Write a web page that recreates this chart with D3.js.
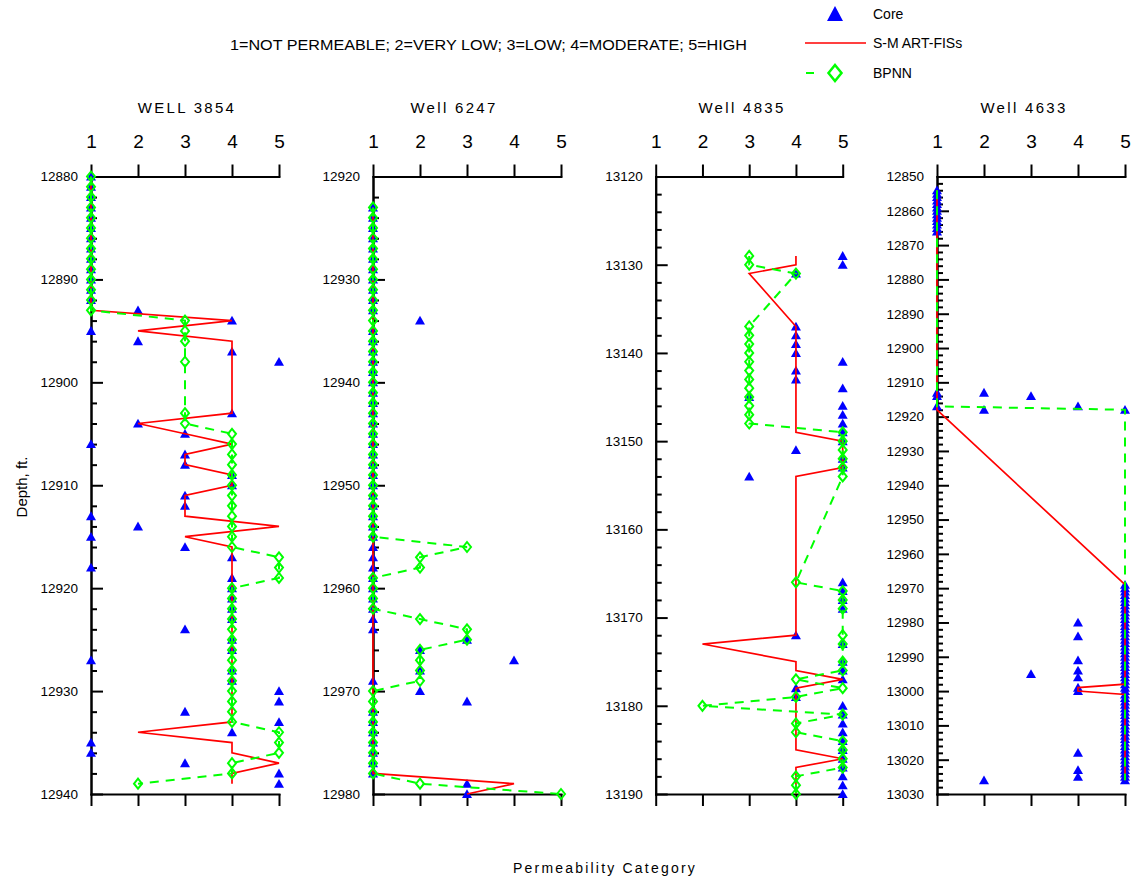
<!DOCTYPE html>
<html><head><meta charset="utf-8">
<script src="https://cdn.jsdelivr.net/npm/d3@7"></script>
<style>
body{margin:0;background:#fff}
svg{display:block}
text{font-family:"Liberation Sans",Arial,Helvetica,sans-serif;fill:#000}
</style>
</head><body>
<svg id="c" width="1136" height="882"></svg>
<script>
// ---------- DATA ----------
const permTicks = [1, 2, 3, 4, 5];
const subtitle = "1=NOT PERMEABLE; 2=VERY LOW; 3=LOW; 4=MODERATE; 5=HIGH";
const legendLabels = ["Core", "S-M ART-FISs", "BPNN"];
const wellTitles = ["WELL 3854", "Well 6247", "Well 4835", "Well 4633"];
const depthDomains = [[12880, 12940], [12920, 12980], [13120, 13190], [12850, 13030]];

// Well 3854
const w1Depth = [12880,12881,12882,12883,12884,12885,12886,12887,12888,12889,12890,12891,12892,12893,12894,12895,12896,12897,12898,12899,12900,12901,12902,12903,12904,12905,12906,12907,12908,12909,12910,12911,12912,12913,12914,12915,12916,12917,12918,12919,12920,12921,12922,12923,12924,12925,12926,12927,12928,12929,12930,12931,12932,12933,12934,12935,12936,12937,12938,12939];
const w1Core = [1,1,1,1,1,1,1,1,1,1,1,1,1,2,4,1,2,4,5,null,null,null,null,4,2,3,1,3,3,4,4,3,3,1,2,1,3,4,1,4,4,4,4,4,3,4,4,1,4,4,5,5,3,5,4,1,1,3,5,5];
const w1Fis  = [1,1,1,1,1,1,1,1,1,1,1,1,1,1,4,2,4,4,4,4,4,4,4,4,2,3,4,3,3,4,4,3,3,3,5,3,4,4,4,4,4,4,4,4,4,4,4,4,4,4,4,4,4,4,2,4,4,5,4,4];
const w1Bpnn = [1,1,1,1,1,1,1,1,1,1,1,1,1,1,3,3,3,null,3,null,null,null,null,3,3,4,4,4,4,4,4,4,4,4,4,4,4,5,5,5,4,4,4,4,4,4,4,4,4,4,4,4,4,4,5,5,5,4,4,2];

// Well 6247
const w2Depth = [12923,12924,12925,12926,12927,12928,12929,12930,12931,12932,12933,12934,12935,12936,12937,12938,12939,12940,12941,12942,12943,12944,12945,12946,12947,12948,12949,12950,12951,12952,12953,12954,12955,12956,12957,12958,12959,12960,12961,12962,12963,12964,12965,12966,12967,12968,12969,12970,12971,12972,12973,12974,12975,12976,12977,12978,12979,12980];
const w2Core = [1,1,1,1,1,1,1,1,1,1,1,2,1,1,1,1,1,1,1,1,1,1,1,1,1,1,1,1,1,1,1,1,1,1,1,1,1,1,1,1,1,1,3,2,4,2,1,2,3,1,1,1,1,1,1,1,3,3];
const w2Fis  = [1,1,1,1,1,1,1,1,1,1,1,1,1,1,1,1,1,1,1,1,1,1,1,1,1,1,1,1,1,1,1,1,1,1,1,1,1,1,1,1,1,1,1,1,1,1,1,1,1,1,1,1,1,1,1,1,4,3];
const w2Bpnn = [1,1,1,1,1,1,1,1,1,1,1,1,1,1,1,1,1,1,1,1,1,1,1,1,1,1,1,1,1,1,1,1,1,3,2,2,1,1,1,1,2,3,3,2,2,2,2,1,1,1,1,1,1,1,1,1,2,5];

// Well 4835
const w3Depth = [13129,13130,13131,13132,13133,13134,13135,13136,13137,13138,13139,13140,13141,13142,13143,13144,13145,13146,13147,13148,13149,13150,13151,13152,13153,13154,13155,13156,13157,13158,13159,13160,13161,13162,13163,13164,13165,13166,13167,13168,13169,13170,13171,13172,13173,13174,13175,13176,13177,13178,13179,13180,13181,13182,13183,13184,13185,13186,13187,13188,13189,13190];
const w3Core = [5,5,4,null,null,null,null,null,4,4,4,4,5,4,4,5,3,5,5,5,5,5,4,5,5,3,null,null,null,null,null,null,null,null,null,null,null,5,5,5,5,null,null,4,5,null,5,5,5,4,4,5,5,5,5,5,5,5,5,5,5,5];
const w3Fis  = [4,4,3,null,null,null,null,null,4,4,4,4,4,4,4,4,4,4,4,4,4,5,5,5,5,4,4,4,4,4,4,4,4,4,4,4,4,4,4,4,4,4,4,4,2,null,4,4,5,4,4,4,4,4,4,4,4,5,4,4,4,4];
const w3Bpnn = [3,3,4,null,null,null,null,null,3,3,3,3,3,3,3,3,3,3,3,3,5,5,5,5,5,5,null,null,null,null,null,null,null,null,null,null,null,4,5,5,5,null,null,5,5,null,5,5,4,5,4,2,5,4,4,5,5,5,5,4,4,4];

// Well 4633 (core as depth/value pairs; lines as listed points)
const w4CoreDepth = [12854,12855,12856,12857,12858,12859,12860,12861,12862,12863,12864,12865,12866,
  12913,12914,12913,12914,12917,12918,12917,12918,
  12969,12970,12971,12972,12973,12974,12975,12976,12977,12978,12979,12980,12981,12982,12983,12984,12985,12986,12987,12988,12989,12990,12991,12992,12993,12994,12995,12996,12997,12998,12999,13000,13001,13002,13003,13004,13005,13006,13007,13008,13009,13010,13011,13012,13013,13014,13015,13016,13017,13018,13019,13020,13021,13022,13023,13024,13025,13026,
  12980,12984,12991,12994,12996,12999,13000,13018,13023,13025,12995,13026];
const w4CoreVal = [1,1,1,1,1,1,1,1,1,1,1,1,1,
  1,1,2,3,1,2,4,5,
  5,5,5,5,5,5,5,5,5,5,5,5,5,5,5,5,5,5,5,5,5,5,5,5,5,5,5,5,5,5,5,5,5,5,5,5,5,5,5,5,5,5,5,5,5,5,5,5,5,5,5,5,5,5,5,5,5,5,
  4,4,4,4,4,4,4,4,4,4,3,2];
const w4FisDepth = [12854,12866,12880,12900,12918,12969,12998,12999,13000,13001,13026];
const w4FisVal   = [1,1,1,1,1,5,5,4,4,5,5];
const w4BpnnDepth = [12854,12866,12880,12900,12917,12918,12969,12998,13026];
const w4BpnnVal   = [1,1,1,1,1,5,5,5,5];

// ---------- LAYOUT ----------
const svg = d3.select("#c");
const yTop = 176.5, yBot = 794;
const layout = [
  {x0: 91,    x1: 279,    titleX: 187},
  {x0: 373,   x1: 561,    titleX: 454},
  {x0: 655.7, x1: 842.7,  titleX: 742},
  {x0: 937,   x1: 1125,   titleX: 1024}
];
const BLUE = "#0000ff", RED = "#ff0000", GREEN = "#00ff00";
const triPath = "M0,-4.8L5,4L-5,4Z";
const diaPath = "M0,-5L4,0L0,5L-4,0Z";

function pairs(depth, vals) {
  const out = [];
  depth.forEach((d, i) => { if (vals[i] !== null && vals[i] !== undefined) out.push([d, vals[i]]); });
  return out;
}

const wells = [
  {core: pairs(w1Depth, w1Core), fis: pairs(w1Depth, w1Fis), bpnn: pairs(w1Depth, w1Bpnn), diamonds: true},
  {core: pairs(w2Depth, w2Core), fis: pairs(w2Depth, w2Fis), bpnn: pairs(w2Depth, w2Bpnn), diamonds: true},
  {core: pairs(w3Depth, w3Core), fis: pairs(w3Depth, w3Fis), bpnn: pairs(w3Depth, w3Bpnn), diamonds: true},
  {core: pairs(w4CoreDepth, w4CoreVal), fis: pairs(w4FisDepth, w4FisVal), bpnn: pairs(w4BpnnDepth, w4BpnnVal), diamonds: false}
];

wells.forEach((w, i) => {
  const L = layout[i];
  const dom = depthDomains[i];
  const x = d3.scaleLinear().domain([1, 5]).range([L.x0, L.x1]);
  const y = d3.scaleLinear().domain(dom).range([yTop, yBot]);
  const g = svg.append("g");

  // title
  g.append("text").attr("x", L.titleX).attr("y", 113).attr("text-anchor", "middle")
    .style("font-size", "15px").style("letter-spacing", "2.3px").text(wellTitles[i]);

  // minor ticks
  const minorVals = d3.range(dom[0], dom[1] + 0.001, 2).filter(v => (v - dom[0]) % 10 !== 0);
  const minor = g.append("g").attr("transform", `translate(${L.x0},0)`)
    .call(d3.axisLeft(y).tickValues(minorVals).tickSize(-6).tickSizeOuter(0).tickFormat(""));
  // major ticks + labels
  const majorVals = d3.range(dom[0], dom[1] + 0.001, 10);
  const major = g.append("g").attr("transform", `translate(${L.x0},0)`)
    .call(d3.axisLeft(y).tickValues(majorVals).tickSize(-12).tickSizeOuter(0).tickPadding(13).tickFormat(d3.format("d")));
  major.selectAll("text").style("font-size", "13.5px").attr("font-family", null);
  // top axis
  const top = g.append("g").attr("transform", `translate(0,${yTop})`)
    .call(d3.axisTop(x).tickValues(permTicks).tickSize(12).tickSizeOuter(0).tickPadding(17).tickFormat(d3.format("d")));
  top.selectAll("text").style("font-size", "19px");
  // bottom axis
  g.append("g").attr("transform", `translate(0,${yBot})`)
    .call(d3.axisBottom(x).tickValues(permTicks).tickSize(12).tickSizeOuter(0).tickFormat(""));

  g.selectAll(".domain, .tick line").attr("stroke", "#000").attr("stroke-width", 2).attr("stroke-linecap", "square");
  g.selectAll(".tick line").attr("stroke-linecap", "butt");
  g.selectAll(".tick text").attr("fill", "#000").attr("font-family", null);

  // core triangles
  g.append("g").selectAll("path").data(w.core).join("path")
    .attr("d", triPath).attr("fill", BLUE)
    .attr("transform", d => `translate(${x(d[1])},${y(d[0])})`);

  const line = d3.line().x(d => x(d[1])).y(d => y(d[0]));
  g.append("path").datum(w.fis).attr("d", line).attr("fill", "none")
    .attr("stroke", RED).attr("stroke-width", 1.7);
  g.append("path").datum(w.bpnn).attr("d", line).attr("fill", "none")
    .attr("stroke", GREEN).attr("stroke-width", 2).attr("stroke-dasharray", "9,7");
  if (w.diamonds) {
    g.append("g").selectAll("path").data(w.bpnn).join("path")
      .attr("d", diaPath).attr("fill", "none").attr("stroke", GREEN).attr("stroke-width", 2)
      .attr("transform", d => `translate(${x(d[1])},${y(d[0])})`);
  }
});

// axis titles
svg.append("text").attr("x", 605).attr("y", 873).attr("text-anchor", "middle")
  .style("font-size", "14px").style("letter-spacing", "2.2px").text("Permeability Category");
svg.append("text").attr("transform", "translate(27,487) rotate(-90)").attr("text-anchor", "middle")
  .style("font-size", "15px").text("Depth, ft.");

// subtitle
svg.append("text").attr("x", 230).attr("y", 50).attr("textLength", 517).attr("lengthAdjust", "spacingAndGlyphs")
  .style("font-size", "14px").text(subtitle);

// legend
const lg = svg.append("g");
lg.append("path").attr("d", "M0,-8L8,7L-8,7Z").attr("fill", BLUE).attr("transform", "translate(835,14)");
lg.append("line").attr("x1", 805).attr("x2", 866).attr("y1", 43).attr("y2", 43).attr("stroke", RED).attr("stroke-width", 1.7);
lg.append("line").attr("x1", 806).attr("x2", 814).attr("y1", 73).attr("y2", 73).attr("stroke", GREEN).attr("stroke-width", 2);
lg.append("path").attr("d", "M0,-8L6.5,0L0,8L-6.5,0Z").attr("fill", "none").attr("stroke", GREEN).attr("stroke-width", 2.5).attr("transform", "translate(835,73)");
legendLabels.forEach((t, i) => {
  lg.append("text").attr("x", 873).attr("y", [19, 48, 78][i]).style("font-size", "14px").text(t);
});
</script>
</body></html>
